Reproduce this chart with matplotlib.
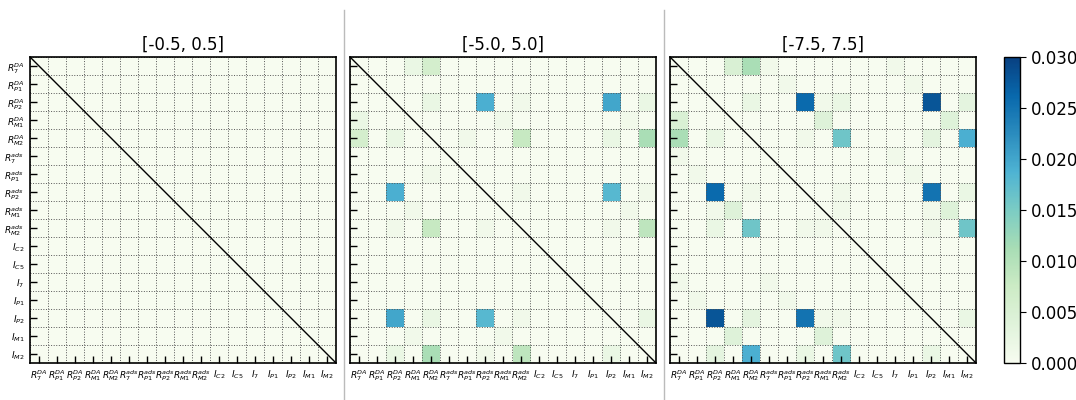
import numpy as np
import matplotlib
matplotlib.use("Agg")
import matplotlib.pyplot as plt
from matplotlib.lines import Line2D

# ── labels ─────────────────────────────────────
labels = [r"$R_7^{DA}$", r"$R_{P1}^{DA}$", r"$R_{P2}^{DA}$", r"$R_{M1}^{DA}$", r"$R_{M2}^{DA}$",
          r"$R_7^{ads}$", r"$R_{P1}^{ads}$", r"$R_{P2}^{ads}$", r"$R_{M1}^{ads}$", r"$R_{M2}^{ads}$",
          r"$I_{C2}$", r"$I_{C5}$", r"$I_7$", r"$I_{P1}$", r"$I_{P2}$", r"$I_{M1}$", r"$I_{M2}$"]
titles = ["[-0.5, 0.5]", "[-5.0, 5.0]", "[-7.5, 7.5]"]

# ── upper-triangle entries (row, col, value), mirrored below ──
p1_rows = []
p1_cols = []
p1_vals = []

p2_rows = [0, 0, 2, 2, 2, 2, 2, 3, 3, 4, 4, 4, 4, 7, 7, 7, 8, 9, 9, 14]
p2_cols = [3, 4, 4, 7, 9, 14, 16, 8, 15, 6, 9, 14, 16, 9, 14, 16, 15, 14, 16, 16]
p2_vals = [0.002, 0.006, 0.002, 0.019, 0.001, 0.020, 0.002, 0.001, 0.001, 0.001, 0.008,
           0.002, 0.011, 0.001, 0.018, 0.001, 0.001, 0.001, 0.009, 0.002]

p3_rows = [0, 0, 0, 0, 1, 1, 2, 2, 2, 2, 2, 2, 3, 3, 4, 4, 4, 4, 5, 6, 6, 7, 7, 7, 8, 8, 9, 9, 9, 14]
p3_cols = [3, 4, 5, 12, 6, 13, 4, 7, 8, 9, 14, 16, 8, 15, 7, 9, 14, 16, 12, 13, 1, 9, 14, 16, 15, 14, 14, 16, 8, 16]
p3_vals = [0.005, 0.011, 0.001, 0.001, 0.001, 0.001, 0.002, 0.026, 0.001, 0.002, 0.028, 0.003,
           0.004, 0.004, 0.001, 0.016, 0.003, 0.019, 0.001, 0.001, 0.001, 0.001, 0.025, 0.002,
           0.004, 0.001, 0.001, 0.016, 0.001, 0.002]


def build(rows, cols, vals, n=17):
    m = np.zeros((n, n))
    for r, c, v in zip(rows, cols, vals):
        m[r, c] = v
        m[c, r] = v
    return m


mats = [build(p1_rows, p1_cols, p1_vals),
        build(p2_rows, p2_cols, p2_vals),
        build(p3_rows, p3_cols, p3_vals)]

fig = plt.figure(figsize=(10.76, 4.0), dpi=100)
lefts = [0.0279, 0.3253, 0.6227]
n = len(labels)
for k in range(3):
    ax = fig.add_axes([lefts[k], 0.0925, 0.2844, 0.765])
    im = ax.imshow(mats[k], cmap="GnBu", vmin=0, vmax=0.03, aspect="auto",
                   interpolation="nearest")
    # diagonal
    ax.plot([-0.5, n - 0.5], [-0.5, n - 0.5], color="black", lw=1.0)
    ax.set_xlim(-0.5, n - 0.5)
    ax.set_ylim(n - 0.5, -0.5)
    ax.set_xticks(range(n))
    ax.set_yticks(range(n))
    ax.set_xticklabels(labels, fontsize=6.5)
    if k == 0:
        ax.set_yticklabels(labels, fontsize=6.5)
    else:
        ax.set_yticklabels([])
    ax.set_xticks(np.arange(-0.5, n, 1), minor=True)
    ax.set_yticks(np.arange(-0.5, n, 1), minor=True)
    ax.grid(which="minor", color="#555555", linestyle=":", linewidth=0.7)
    ax.tick_params(which="minor", length=0)
    ax.tick_params(which="major", direction="in", length=5, width=1.0, pad=4,
                   top=False, right=False)
    for s in ax.spines.values():
        s.set_linewidth(1.2)
    ax.set_title(titles[k], fontsize=12, pad=5)

cax = fig.add_axes([0.9331, 0.0925, 0.0149, 0.765])
cb = fig.colorbar(im, cax=cax, ticks=[0, 0.005, 0.01, 0.015, 0.02, 0.025, 0.03])
cb.ax.set_yticklabels(["0.000", "0.005", "0.010", "0.015", "0.020", "0.025", "0.030"])
cb.ax.tick_params(labelsize=12, length=4)
cb.outline.set_linewidth(1.0)

# separators between panels
for x in [344 / 1076, 664 / 1076]:
    fig.add_artist(Line2D([x, x], [0.0, 0.975], color="#bbbbbb", lw=1.0))

fig.savefig("out.png", dpi=100)
